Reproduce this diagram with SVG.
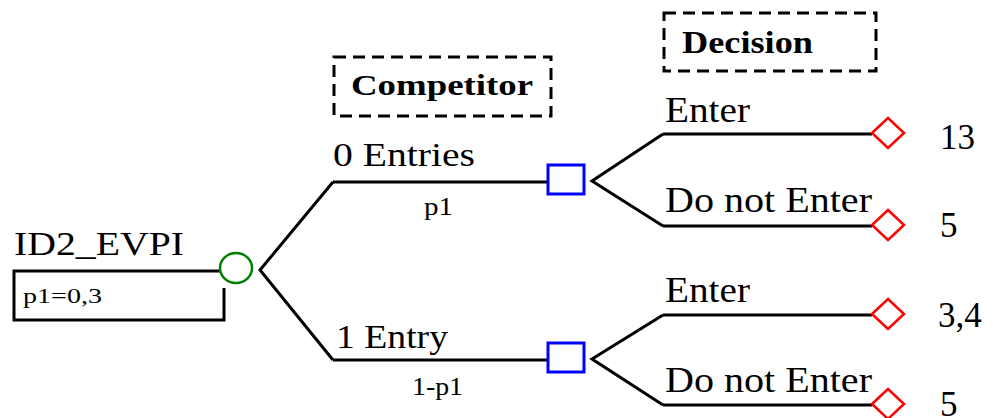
<svg xmlns="http://www.w3.org/2000/svg" width="993" height="418" viewBox="0 0 993 418">
<style>
.ln{stroke:#000;stroke-width:3;fill:none}
.t{font-family:'Liberation Serif',serif;fill:#000}
.b{font-family:'Liberation Serif',serif;font-weight:bold;fill:#000}
.dash{stroke:#000;stroke-width:3;fill:none;stroke-dasharray:12 7}
.chance{fill:#fff;stroke:#008000;stroke-width:2.5}
.dec{fill:#fff;stroke:#0000ff;stroke-width:3}
.term{fill:#fff;stroke:#ff0000;stroke-width:2.5}
</style>
<rect width="993" height="418" fill="#fff"/>
<g id="connectors">
<polyline class="ln" points="333,182 260,270 333,360"/>
<line class="ln" x1="333" y1="182" x2="548" y2="182"/>
<line class="ln" x1="333" y1="360" x2="548" y2="360"/>
<polyline class="ln" points="663,134 592,181 663,226"/>
<line class="ln" x1="663" y1="134" x2="872" y2="134"/>
<line class="ln" x1="663" y1="226" x2="872" y2="226"/>
<polyline class="ln" points="663,315 592,359 663,405"/>
<line class="ln" x1="663" y1="315" x2="872" y2="315"/>
<line class="ln" x1="663" y1="405" x2="872" y2="405"/>
</g>
<g id="root">
<text class="t" x="14" y="255" font-size="33" textLength="170" lengthAdjust="spacingAndGlyphs">ID2_EVPI</text>
<polyline class="ln" points="222,271 14,271 14,320 224,320 224,288"/>
<text class="t" x="23" y="303" font-size="22" textLength="79" lengthAdjust="spacingAndGlyphs">p1=0,3</text>
<ellipse class="chance" cx="236" cy="268" rx="16" ry="15"/>
</g>
<g id="competitor-label">
<rect class="dash" x="334" y="57" width="217" height="59"/>
<text class="b" x="351" y="95" font-size="30" textLength="182" lengthAdjust="spacingAndGlyphs">Competitor</text>
</g>
<g id="decision-label">
<rect class="dash" x="664" y="13" width="212" height="58"/>
<text class="b" x="682" y="53" font-size="31" textLength="131" lengthAdjust="spacingAndGlyphs">Decision</text>
</g>
<g id="branch-0">
<text class="t" x="333" y="166" font-size="34" textLength="142" lengthAdjust="spacingAndGlyphs">0 Entries</text>
<text class="t" x="424" y="215" font-size="25" textLength="29" lengthAdjust="spacingAndGlyphs">p1</text>
</g>
<g id="branch-1">
<text class="t" x="336" y="348" font-size="34" textLength="112" lengthAdjust="spacingAndGlyphs">1 Entry</text>
<text class="t" x="412" y="395" font-size="25" textLength="51" lengthAdjust="spacingAndGlyphs">1-p1</text>
</g>
<g id="decision-1">
<rect class="dec" x="548" y="165" width="36" height="29"/>
</g>
<g id="decision-2">
<rect class="dec" x="548" y="343" width="36" height="29"/>
</g>
<g id="d1-enter">
<text class="t" x="665" y="122" font-size="35" textLength="85" lengthAdjust="spacingAndGlyphs">Enter</text>
<polygon class="term" points="872,133 888,118 904,133 888,148"/>
<text class="t" x="940" y="149" font-size="35">13</text>
</g>
<g id="d1-notenter">
<text class="t" x="665" y="212" font-size="35" textLength="207" lengthAdjust="spacingAndGlyphs">Do not Enter</text>
<polygon class="term" points="872,225 888,210 904,225 888,240"/>
<text class="t" x="940" y="237" font-size="35">5</text>
</g>
<g id="d2-enter">
<text class="t" x="665" y="302" font-size="35" textLength="85" lengthAdjust="spacingAndGlyphs">Enter</text>
<polygon class="term" points="872,314 888,299 904,314 888,329"/>
<text class="t" x="938" y="327" font-size="35">3,4</text>
</g>
<g id="d2-notenter">
<text class="t" x="665" y="392" font-size="35" textLength="207" lengthAdjust="spacingAndGlyphs">Do not Enter</text>
<polygon class="term" points="872,404 888,389 904,404 888,419"/>
<text class="t" x="940" y="416" font-size="35">5</text>
</g>
</svg>
